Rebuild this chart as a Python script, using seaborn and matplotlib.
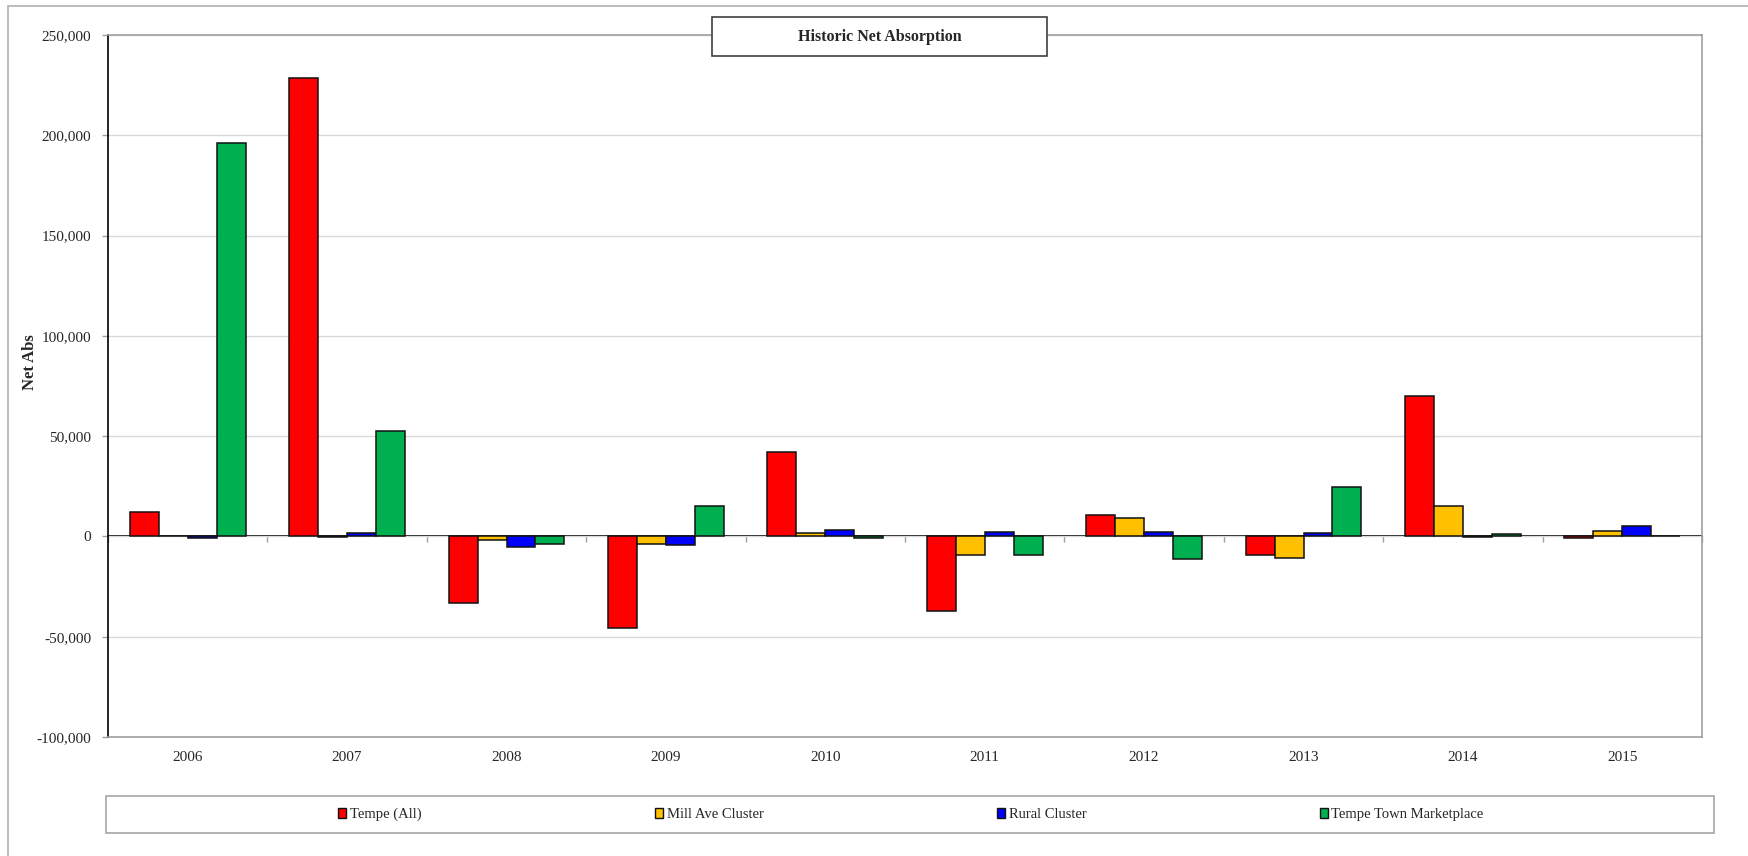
import numpy as np
import pandas as pd
import matplotlib
matplotlib.use("Agg")
import matplotlib.pyplot as plt
from matplotlib.patches import Rectangle
from matplotlib.ticker import FuncFormatter, MultipleLocator
import seaborn as sns

# values
years = ["2006", "2007", "2008", "2009", "2010", "2011", "2012", "2013", "2014", "2015"]
tempe_all = [12300, 228700, -33000, -45500, 42300, -37400, 10700, -9500, 69900, -900]
mill_ave = [200, -400, -1700, -3600, 1700, -9100, 9000, -10700, 15400, 2600]
rural = [-600, 1900, -5400, -4200, 3400, 2100, 2100, 1600, -400, 5400]
town_market = [196000, 52400, -3700, 15200, -900, -9400, -11400, 24700, 1100, 0]
series = ["Tempe (All)", "Mill Ave Cluster", "Rural Cluster", "Tempe Town Marketplace"]
colors = ["#FF0000", "#FFC000", "#0000FF", "#00B050"]

df = pd.DataFrame({
    "Year": years * 4,
    "Series": np.repeat(series, len(years)),
    "Value": tempe_all + mill_ave + rural + town_market,
})

sns.set_theme(style="white")
plt.rcParams["font.family"] = ["Liberation Serif", "DejaVu Serif"]

W, H = 1748, 856
fig = plt.figure(figsize=(W / 100, H / 100), dpi=100)
fig.patch.set_facecolor("white")

# outer chart area border (only top and left visible)
fig.patches.append(Rectangle((8 / W, -0.1), 1.2, 1.1 - 6 / H, transform=fig.transFigure,
                             fill=False, edgecolor="#b0b0b0", lw=1.2, zorder=0))

ax = fig.add_axes([108 / W, 1 - 737 / H, 1594 / W, 702 / H])

sns.barplot(data=df, x="Year", y="Value", hue="Series", hue_order=series,
            palette=colors, saturation=1, width=0.727, gap=0,
            edgecolor="#111111", linewidth=1.1, ax=ax)

ax.set_ylim(-100000, 250000)
ax.set_xlim(-0.5, len(years) - 0.5)
ax.yaxis.set_major_locator(MultipleLocator(50000))
ax.yaxis.set_major_formatter(FuncFormatter(lambda v, p: f"{v:,.0f}"))
ax.yaxis.grid(True, color="#d9d9d9", lw=1)
ax.set_axisbelow(True)

for s in ["top", "right", "bottom"]:
    ax.spines[s].set_color("#a0a0a0")
    ax.spines[s].set_linewidth(1.2)
ax.spines["left"].set_color("black")
ax.spines["left"].set_linewidth(1.2)

ax.tick_params(axis="y", direction="out", length=4, width=1, color="#a0a0a0",
               pad=8, labelsize=11, left=True)
ax.tick_params(axis="x", length=0, pad=10, labelsize=11)
ax.set_xlabel("")
ax.set_ylabel("Net Abs", fontsize=12, fontweight="bold")
ax.yaxis.set_label_coords(-0.044, 0.534)

# zero line with category tick marks
sec = ax.secondary_xaxis(0, transform=ax.transData)
sec.set_xticks(np.arange(-0.5, len(years), 1))
sec.tick_params(axis="x", direction="out", length=4, width=1, color="#a0a0a0",
                labelbottom=False)
sec.spines["bottom"].set_color("black")
sec.spines["bottom"].set_linewidth(1.3)

# legend
handles, labels = ax.get_legend_handles_labels()
if ax.legend_ is not None:
    ax.legend_.remove()
for h in handles:
    h.set_edgecolor("#111111")
    h.set_linewidth(1.0)
fig.legend(handles, labels, loc="center", bbox_to_anchor=(911 / W, 1 - 814.5 / H),
           ncol=4, frameon=False, fontsize=10.5, handlelength=0.55, handleheight=0.65,
           handletextpad=0.25, columnspacing=16)
fig.patches.append(Rectangle((106 / W, 1 - 833 / H), 1608 / W, 37 / H,
                             transform=fig.transFigure, fill=False,
                             edgecolor="#a6a6a6", lw=1.2, zorder=1))

# title box
fig.patches.append(Rectangle((711.7 / W, 1 - 56 / H), 335.6 / W, 38.7 / H,
                             transform=fig.transFigure, facecolor="white",
                             edgecolor="#404040", lw=1.2, zorder=3))
fig.text(879.5 / W, 1 - 36.7 / H, "Historic Net Absorption", ha="center", va="center",
         fontsize=11.5, fontweight="bold", zorder=4)

fig.savefig("out.png", dpi=100)
